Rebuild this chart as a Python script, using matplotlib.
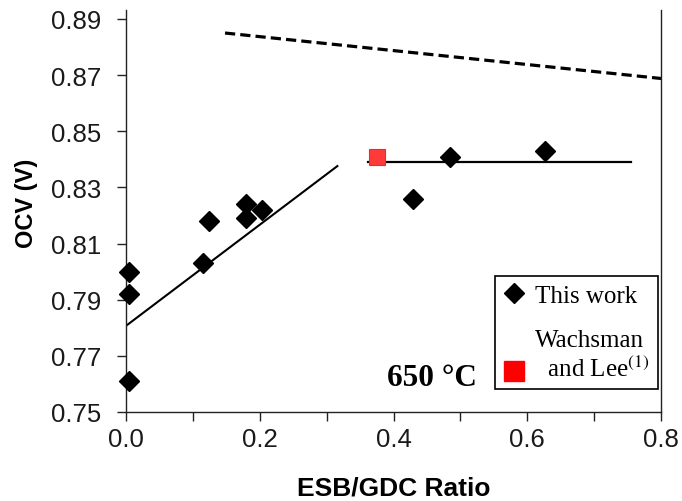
import numpy as np
import matplotlib
matplotlib.use("Agg")
import matplotlib.pyplot as plt
from matplotlib.lines import Line2D
from matplotlib.legend_handler import HandlerLine2D
from matplotlib.ticker import MultipleLocator

plt.rcParams['font.family'] = ['Liberation Sans', 'DejaVu Sans']
plt.rcParams['mathtext.fontset'] = 'stix'

# ---- data ----
this_x = [0.005, 0.005, 0.005, 0.115, 0.124, 0.180, 0.179, 0.203, 0.429, 0.484, 0.627]
this_y = [0.800, 0.792, 0.761, 0.803, 0.818, 0.824, 0.819, 0.822, 0.826, 0.841, 0.843]
wl_x = [0.375]
wl_y = [0.841]
fit_x = [0.0, 0.316]
fit_y = [0.7807, 0.8376]
flat_x = [0.362, 0.755]
flat_y = [0.839, 0.839]
theo_x = [0.148, 0.80]
theo_y = [0.8850, 0.8688]
yticks = [0.75, 0.77, 0.79, 0.81, 0.83, 0.85, 0.87, 0.89]
xticks = [0.0, 0.2, 0.4, 0.6, 0.8]

fig = plt.figure(figsize=(6.82, 5.02), dpi=100)
ax = fig.add_axes([0.1848, 0.1773, 0.7845, 0.8008])

ax.plot(theo_x, theo_y, color='black', lw=2.3, ls=(0, (3.2, 1.6)))
ax.plot(fit_x, fit_y, color='black', lw=1.5)
ax.plot(flat_x, flat_y, color='black', lw=1.6)
ax.plot(this_x, this_y, ls='none', marker='D', ms=10.5, color='black',
        zorder=3, clip_on=False)
ax.plot(wl_x, wl_y, ls='none', marker='s', ms=11.5, color='#ff3a3a',
        markeredgecolor='#e03030', markeredgewidth=0.8, zorder=3)

ax.set_xlim(0, 0.8)
ax.set_ylim(0.75, 0.8932)
ax.set_xticks(xticks)
ax.set_xticklabels([f"{v:.1f}" for v in xticks])
ax.xaxis.set_minor_locator(MultipleLocator(0.1))
ax.set_yticks(yticks)
ax.set_yticklabels([f"{v:.2f}" for v in yticks])

for s in ['left', 'bottom', 'right']:
    ax.spines[s].set_linewidth(1.0)
    ax.spines[s].set_color('#222222')
ax.spines['top'].set_visible(False)

ax.tick_params(axis='both', which='both', direction='out', length=6.5, width=1.0,
               color='#222222', labelsize=18.5, labelcolor='#1a1a1a')
ax.tick_params(axis='y', pad=11)
ax.tick_params(axis='x', pad=4)
ax.tick_params(right=False, top=False)

ax.set_xlabel('ESB/GDC Ratio', fontsize=19, fontweight='bold', labelpad=18)
ax.set_ylabel('OCV (V)', fontsize=17, fontweight='bold', labelpad=10)
ax.yaxis.set_label_coords(-0.165, 0.522)

ax.text(0.390, 0.7597, '650 \u00b0C', family='Liberation Serif', fontsize=22.5,
        fontweight='bold', va='baseline', ha='left')


class LowHandler(HandlerLine2D):
    def create_artists(self, legend, orig_handle, xdescent, ydescent, width,
                       height, fontsize, trans):
        arts = super().create_artists(legend, orig_handle, xdescent, ydescent,
                                      width, height, fontsize, trans)
        for a in arts:
            a.set_ydata(np.asarray(a.get_ydata()) - 0.65 * fontsize)
        return arts


h1 = Line2D([], [], ls='none', marker='D', ms=10.5, color='black')
h2 = Line2D([], [], ls='none', marker='s', ms=14, color='#ff0000')
leg = ax.legend([h1, h2], ['This work', 'Wachsman\n  and Lee$^{(1)}$'],
                loc='lower right', bbox_to_anchor=(0.994, 0.057),
                borderaxespad=0, frameon=True, fancybox=False,
                edgecolor='black', framealpha=1,
                prop={'family': 'Liberation Serif', 'size': 18},
                handlelength=0.9, handletextpad=0.4, labelspacing=0.9,
                borderpad=0.33, handler_map={h2: LowHandler()})
leg.get_frame().set_linewidth(1.2)

fig.savefig('out.png', dpi=100)
